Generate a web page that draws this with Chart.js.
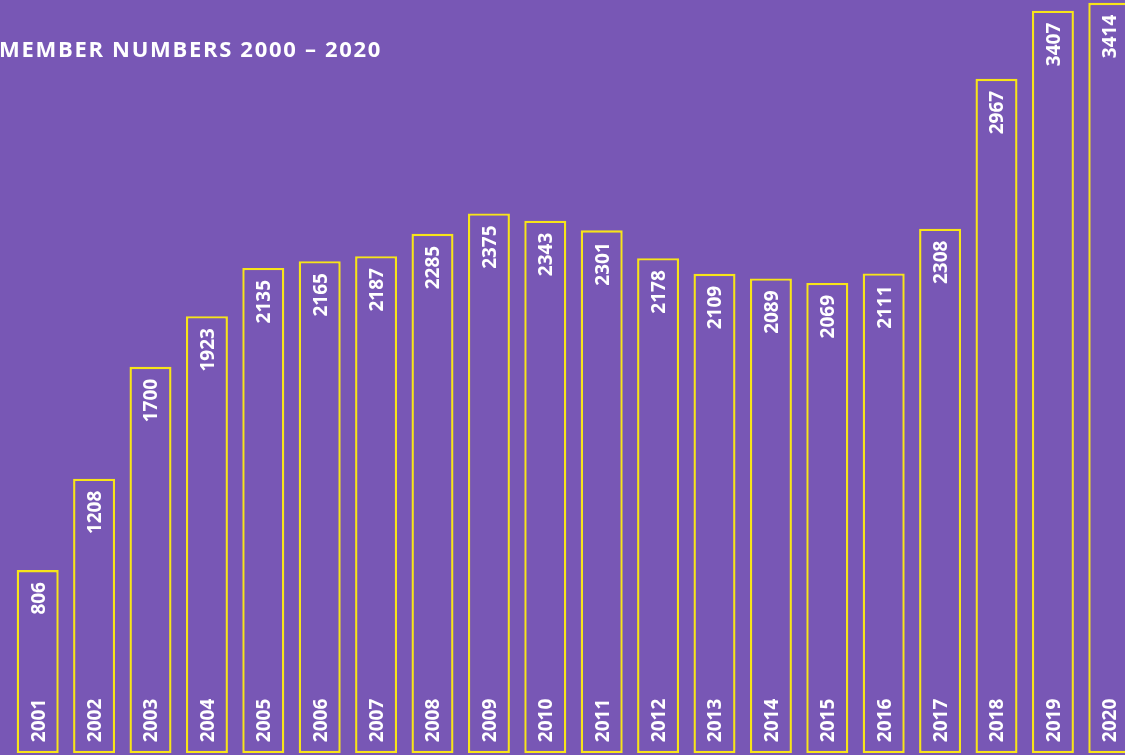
<!DOCTYPE html>
<html>
<head>
<meta charset="utf-8">
<script src="https://cdn.jsdelivr.net/npm/chart.js@4/dist/chart.umd.min.js"></script>
<style>
  html, body { margin: 0; padding: 0; background: #7857B5; overflow: hidden; width: 1125px; height: 755px; }
  #wrap { position: relative; width: 1138px; height: 755px; }
</style>
</head>
<body>
<div id="wrap"><canvas id="c"></canvas></div>
<script>
// Data
const titleText = "MEMBER NUMBERS 2000 – 2020";
const years = ["2001","2002","2003","2004","2005","2006","2007","2008","2009","2010",
               "2011","2012","2013","2014","2015","2016","2017","2018","2019","2020"];
const members = [806,1208,1700,1923,2135,2165,2187,2285,2375,2343,
                 2301,2178,2109,2089,2069,2111,2308,2967,3407,3414];
// Drawn bar heights: the last two bars are shortened in the original graphic
const barHeights = [806,1208,1700,1923,2135,2165,2187,2285,2375,2343,
                    2301,2178,2109,2089,2069,2111,2308,2967,3267,3302];

const BG = '#7857B5';
const YELLOW = '#F7E41A';
const FONT = '"Open Sans", "DejaVu Sans", sans-serif';

const labelPlugin = {
  id: 'barLabels',
  afterDatasetsDraw(chart) {
    const ctx = chart.ctx;
    const meta = chart.getDatasetMeta(0);
    ctx.save();
    ctx.fillStyle = '#ffffff';
    ctx.font = 'bold 19px ' + FONT;
    ctx.textBaseline = 'alphabetic';
    const cap = 13.6;
    meta.data.forEach((bar, i) => {
      // value label near top
      ctx.save();
      ctx.translate(bar.x, bar.y + 12);
      ctx.rotate(-Math.PI / 2);
      ctx.textAlign = 'right';
      ctx.fillText(String(members[i]), 0, cap / 2);
      ctx.restore();
      // year label near bottom
      ctx.save();
      ctx.translate(bar.x, bar.base - 11);
      ctx.rotate(-Math.PI / 2);
      ctx.textAlign = 'left';
      ctx.fillText(years[i], 0, cap / 2);
      ctx.restore();
    });
    ctx.restore();
  },
  afterDraw(chart) {
    const ctx = chart.ctx;
    ctx.save();
    ctx.fillStyle = '#ffffff';
    ctx.font = 'bold 22px ' + FONT;
    if ('letterSpacing' in ctx) ctx.letterSpacing = '1.7px';
    ctx.textAlign = 'left';
    ctx.textBaseline = 'alphabetic';
    ctx.fillText(titleText, -1, 57);
    ctx.restore();
  }
};

const bgPlugin = {
  id: 'bg',
  beforeDraw(chart) {
    const ctx = chart.ctx;
    ctx.save();
    ctx.fillStyle = BG;
    ctx.fillRect(0, 0, chart.width, chart.height);
    ctx.restore();
  }
};

new Chart(document.getElementById('c'), {
  type: 'bar',
  data: {
    labels: years,
    datasets: [{
      data: barHeights,
      backgroundColor: BG,
      borderColor: YELLOW,
      borderWidth: 2.4,
      borderSkipped: false,
      barPercentage: 0.745,
      categoryPercentage: 1
    }]
  },
  options: {
    responsive: true,
    maintainAspectRatio: false,
    animation: false,
    layout: { padding: { left: 9.5, right: 0.5, top: 0, bottom: 1.8 } },
    plugins: { legend: { display: false }, tooltip: { enabled: false }, title: { display: false } },
    scales: {
      x: { display: false, offset: true, grid: { display: false } },
      y: { display: false, min: 0, max: 3314, grid: { display: false } }
    }
  },
  plugins: [bgPlugin, labelPlugin]
});
</script>
</body>
</html>
